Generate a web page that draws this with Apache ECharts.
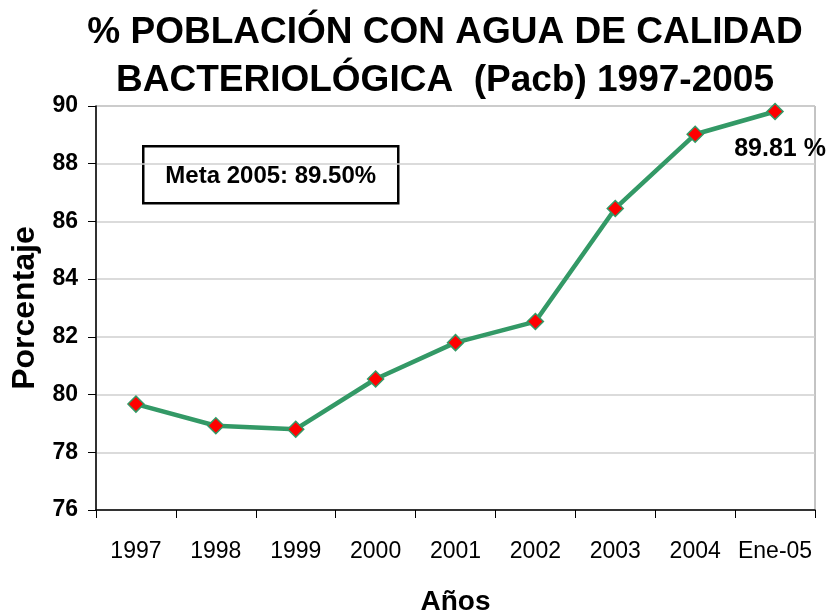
<!DOCTYPE html>
<html>
<head>
<meta charset="utf-8">
<script src="https://cdn.jsdelivr.net/npm/echarts@6/dist/echarts.min.js"></script>
<style>html,body{margin:0;padding:0;background:#fff}#c{width:832px;height:616px}</style>
</head>
<body>
<div id="c"></div>
<script>
var categories = ['1997', '1998', '1999', '2000', '2001', '2002', '2003', '2004', 'Ene-05'];
var values = [79.67, 78.92, 78.80, 80.54, 81.80, 82.53, 86.45, 89.02, 89.81];
var yTicks = {min: 76, max: 90, interval: 2};
var titleText = '% POBLACIÓN CON AGUA DE CALIDAD\nBACTERIOLÓGICA  (Pacb) 1997-2005';
var lastLabel = '89.81 %';
var metaText = 'Meta 2005: 89.50%';

var SANS = "'Liberation Sans', Arial, sans-serif";

var chart = echarts.init(document.getElementById('c'), null, {renderer: 'canvas'});
var seriesData = values.map(function (v, i) {
  if (i === values.length - 1) {
    return {value: v, label: {show: true, formatter: lastLabel, position: 'bottom', offset: [5, 11],
      color: '#000', fontFamily: SANS, fontWeight: 'bold', fontSize: 25}};
  }
  return v;
});
chart.setOption({
  backgroundColor: '#fff',
  animation: false,
  title: {
    text: titleText,
    left: 445,
    top: 9,
    padding: 0,
    textAlign: 'center',
    textStyle: {fontFamily: SANS, fontWeight: 'bold', fontSize: 37, lineHeight: 48, color: '#000'}
  },
  grid: {left: 96, right: 17, top: 106, bottom: 106, containLabel: false, outerBoundsMode: 'none',
    show: true, borderColor: '#888', borderWidth: 1},
  xAxis: {
    type: 'category',
    data: categories,
    boundaryGap: true,
    name: 'Años',
    nameLocation: 'middle',
    nameGap: 78,
    nameTextStyle: {fontFamily: SANS, fontWeight: 'bold', fontSize: 28, color: '#000'},
    axisLine: {lineStyle: {color: '#000', width: 1.5}},
    axisTick: {show: true, interval: 0, length: 8, inside: false, lineStyle: {color: '#000'}},
    axisLabel: {interval: 0, margin: 30, fontFamily: SANS, fontSize: 23, color: '#000'},
    splitLine: {show: false}
  },
  yAxis: {
    type: 'value',
    min: yTicks.min, max: yTicks.max, interval: yTicks.interval,
    name: 'Porcentaje',
    nameLocation: 'middle',
    nameRotate: 90,
    nameGap: 46,
    nameTextStyle: {fontFamily: SANS, fontWeight: 'bold', fontSize: 32, color: '#000'},
    axisLine: {show: true, lineStyle: {color: '#000', width: 1.5}},
    axisTick: {show: true, length: 8, inside: false, lineStyle: {color: '#000'}},
    axisLabel: {margin: 18, fontFamily: SANS, fontWeight: 'bold', fontSize: 23, color: '#000'},
    splitLine: {show: true, lineStyle: {color: '#cfcfcf', width: 1.5}}
  },
  graphic: [{
    type: 'group', left: 142, top: 145,
    children: [
      {type: 'rect', shape: {x: 0, y: 0, width: 255, height: 57}, style: {fill: '#fff', stroke: '#000', lineWidth: 2.5}},
      {type: 'text', x: 127.5, y: 30, style: {text: metaText, align: 'center', verticalAlign: 'middle',
        font: "bold 24px 'Liberation Sans', Arial, sans-serif", fill: '#000'}}
    ]
  }],
  series: [{
    type: 'line',
    data: seriesData,
    symbol: 'diamond',
    symbolSize: 16,
    lineStyle: {color: '#339966', width: 4.5},
    itemStyle: {color: '#ff0000', borderColor: '#339966', borderWidth: 1.5},
    z: 5
  }]
});
</script>
</body>
</html>
